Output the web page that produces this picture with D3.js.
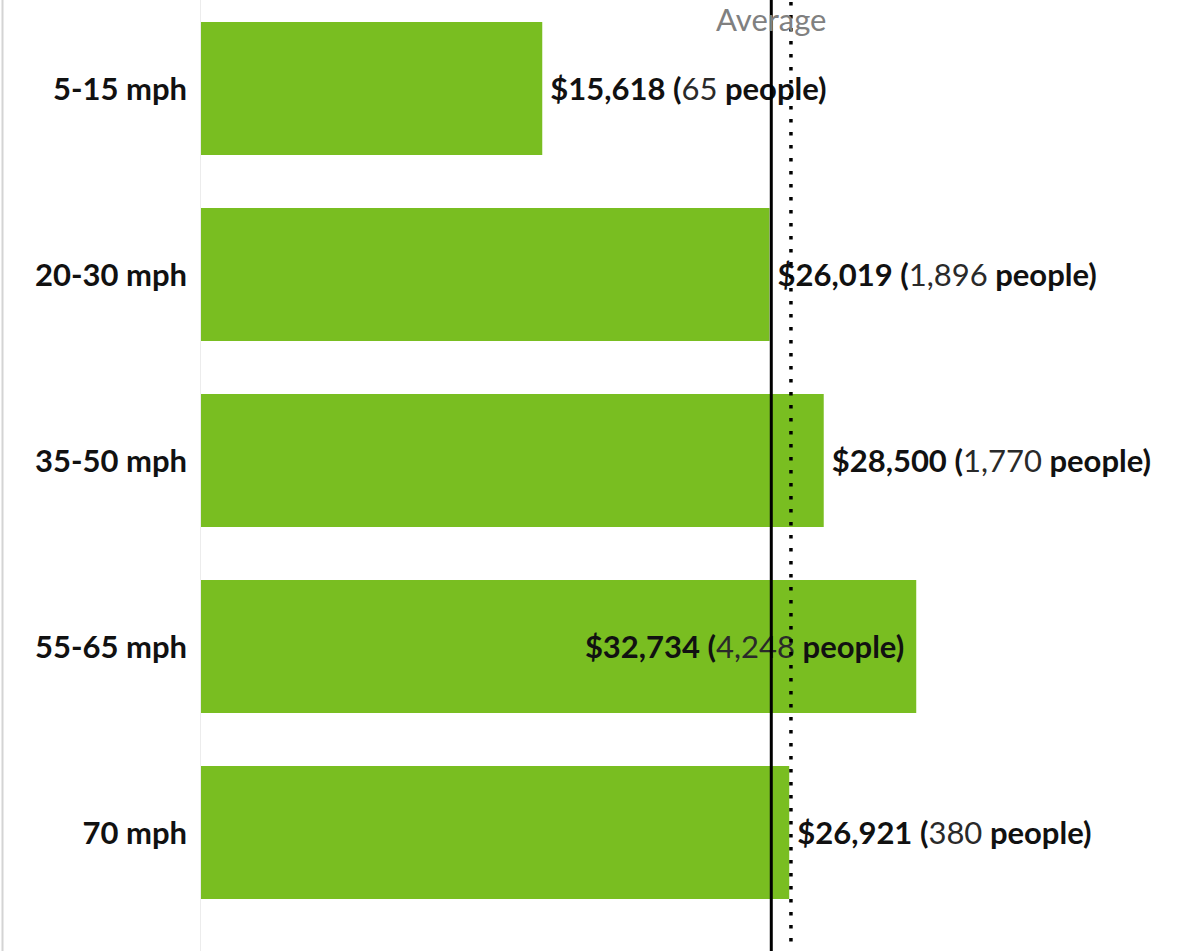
<!DOCTYPE html>
<html>
<head>
<meta charset="utf-8">
<script src="https://cdn.jsdelivr.net/npm/d3@7"></script>
<style>
  html, body { margin: 0; padding: 0; background: #fff; }
  svg { display: block; }
  text { font-family: Lato, "Open Sans", sans-serif; }
</style>
</head>
<body>
<svg id="chart" width="1204" height="951"></svg>
<script>
// Median salary by speed-limit band
const categories = ["5-15 mph", "20-30 mph", "35-50 mph", "55-65 mph", "70 mph"];
const salaries = [15618, 26019, 28500, 32734, 26921];
const people = [65, 1896, 1770, 4248, 380];
// Reference lines: overall average (solid) and comparison (dotted)
const averageValue = 26100;
const dottedValue = 27000;
const averageLabel = "Average";

const W = 1204, H = 951;
const svg = d3.select("#chart");

const x = d3.scaleLinear().domain([0, 40000]).range([201, 1075]);
const y = d3.scaleBand().domain(categories).range([-4.5, 925.5])
  .paddingInner(0.285).paddingOuter(0.1425);

const fmt = d3.format(",");
const FS = 31;

// Left frame line and category axis line
svg.append("line").attr("x1", 2.5).attr("x2", 2.5).attr("y1", 0).attr("y2", H)
  .attr("stroke", "#d4d4d4").attr("stroke-width", 2);
svg.append("line").attr("x1", 200.5).attr("x2", 200.5).attr("y1", 0).attr("y2", H)
  .attr("stroke", "#ececec").attr("stroke-width", 1);

// Bars
svg.append("g").selectAll("rect").data(categories).join("rect")
  .attr("x", x(0))
  .attr("y", d => y(d))
  .attr("width", (d, i) => x(salaries[i]) - x(0))
  .attr("height", y.bandwidth())
  .attr("fill", "#79be21");

// Category labels
svg.append("g").selectAll("text").data(categories).join("text")
  .attr("x", 187)
  .attr("y", d => y(d) + y.bandwidth() / 2)
  .attr("dy", "0.36em")
  .attr("text-anchor", "end")
  .attr("font-size", FS)
  .attr("font-weight", 700)
  .attr("fill", "#111")
  .text(d => d);

// Value labels; the widest bar carries its label inside
const labels = svg.append("g").selectAll("text").data(categories).join("text")
  .attr("y", d => y(d) + y.bandwidth() / 2)
  .attr("dy", "0.36em")
  .attr("font-size", FS)
  .attr("fill", "#111");

labels.each(function(d, i) {
  const t = d3.select(this);
  const inside = salaries[i] === d3.max(salaries);
  t.attr("x", inside ? x(salaries[i]) - 12 : x(salaries[i]) + 8)
   .attr("text-anchor", inside ? "end" : "start");
  t.append("tspan").attr("font-weight", 700).text("$" + fmt(salaries[i]) + " (");
  t.append("tspan").attr("font-weight", 400).attr("fill", "#2a2a2a").text(fmt(people[i]));
  t.append("tspan").attr("font-weight", 700).text(" people)");
});

// Reference lines
svg.append("line")
  .attr("x1", x(averageValue)).attr("x2", x(averageValue))
  .attr("y1", 0).attr("y2", H)
  .attr("stroke", "#000").attr("stroke-width", 3);
svg.append("line")
  .attr("x1", x(dottedValue)).attr("x2", x(dottedValue))
  .attr("y1", 2).attr("y2", H)
  .attr("stroke", "#000").attr("stroke-width", 3.5)
  .attr("stroke-dasharray", "3.5 9.5");

svg.append("text")
  .attr("x", x(averageValue))
  .attr("y", 31)
  .attr("text-anchor", "middle")
  .attr("font-size", 31)
  .attr("fill", "#808080")
  .text(averageLabel);
</script>
</body>
</html>
